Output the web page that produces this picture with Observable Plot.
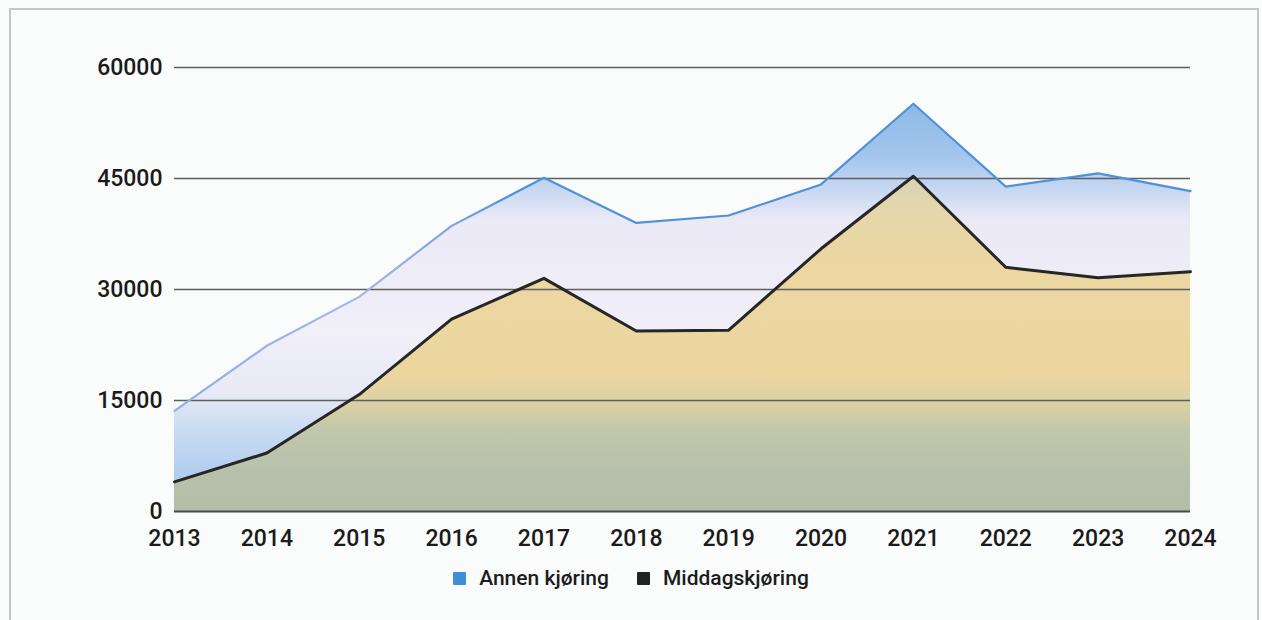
<!DOCTYPE html>
<html>
<head>
<meta charset="utf-8">
<script src="https://cdn.jsdelivr.net/npm/d3@7"></script>
<script src="https://cdn.jsdelivr.net/npm/@observablehq/plot@0.6"></script>
<style>
  body { margin:0; background:#fafbfb; font-family:Roboto, "Noto Sans", sans-serif; width:1262px; height:620px; overflow:hidden; position:relative; }
  #frame { position:absolute; left:9px; top:8px; width:1250px; height:660px; border:2px solid #c6c6c6; box-sizing:border-box; }
  #chart { position:absolute; left:0; top:0; }
  #legend { position:absolute; left:0; top:566px; width:1262px; display:flex; justify-content:center; align-items:center; font-size:21px; font-weight:500; color:#1c1c1c; }
  .item { display:flex; align-items:center; margin:0 14px; }
  .sw { width:13px; height:13px; margin-right:13px; border-radius:1px; }
</style>
</head>
<body>
<div id="frame"></div>
<div id="chart"></div>
<div id="legend"></div>
<script>
const years = [2013, 2014, 2015, 2016, 2017, 2018, 2019, 2020, 2021, 2022, 2023, 2024];
const annenKjoring = [13600, 22400, 29000, 38600, 45100, 39000, 40000, 44200, 55100, 43900, 45700, 43300];
const middagskjoring = [4000, 7900, 15800, 26000, 31500, 24400, 24500, 35500, 45300, 33000, 31600, 32400];
const yTicks = [0, 15000, 30000, 45000, 60000];
const seriesNames = ["Annen kjøring", "Middagskjøring"];
const seriesColors = ["#3f8ed8", "#232323"];

const data = years.map((year, i) => ({year, annen: annenKjoring[i], middag: middagskjoring[i]}));

const plot = Plot.plot({
  width: 1262,
  height: 560,
  marginLeft: 174,
  marginRight: 72,
  marginTop: 67,
  marginBottom: 49,
  style: {fontSize: "23px", fontWeight: 500, fontFamily: "Roboto, sans-serif", color: "#1a1a1a", background: "transparent"},
  x: {type: "linear", domain: [years[0], years[years.length - 1]], ticks: years, tickFormat: "d", tickSize: 0, tickPadding: 18, label: null},
  y: {domain: [0, 60000], ticks: yTicks, tickFormat: d => String(d), tickSize: 0, tickPadding: 12, label: null},
  marks: [
    Plot.areaY(data, {x: "year", y: "annen", fill: "url(#gBlue)"}),
    Plot.areaY(data, {x: "year", y: "middag", fill: "url(#gTan)"}),
    Plot.ruleY(yTicks.slice(1), {stroke: "#5e5e5e", strokeWidth: 1.3}),
    Plot.ruleY([0], {stroke: "#4a4a4a", strokeWidth: 2}),
    Plot.lineY(data, {x: "year", y: "annen", stroke: "url(#gLine)", strokeWidth: 2.2}),
    Plot.lineY(data, {x: "year", y: "middag", stroke: "#262626", strokeWidth: 3})
  ]
});

const ys = plot.scale("y");
const xs = plot.scale("x");
const svg = d3.select(plot);
const defs = svg.insert("defs", ":first-child");
function grad(id, stops) {
  const vals = stops.map(s => s[0]);
  const top = d3.max(vals), bot = d3.min(vals);
  const g = defs.append("linearGradient").attr("id", id)
    .attr("gradientUnits", "userSpaceOnUse")
    .attr("x1", 0).attr("x2", 0)
    .attr("y1", ys.apply(top)).attr("y2", ys.apply(bot));
  stops.forEach(([v, c]) => {
    g.append("stop").attr("offset", (top - v) / (top - bot)).attr("stop-color", c);
  });
}
grad("gBlue", [
  [55100, "#8db9e6"], [48000, "#a3c5ec"], [44000, "#c2d5f1"], [39500, "#eae9f6"],
  [24000, "#f1eff8"], [16000, "#e8eaf6"], [11000, "#c9dbf2"], [4000, "#aecbee"], [0, "#aecbee"]
]);
grad("gTan", [
  [45300, "#d6d2b6"], [41000, "#e5d7ab"], [33000, "#ecd6a1"], [18000, "#ebd6a0"],
  [14000, "#d7d1a6"], [11000, "#c1c7ab"], [5000, "#b6c0aa"], [0, "#b3bda8"]
]);
// the top line is pale on the rising left part, full blue from 2016 on
const lg = defs.append("linearGradient").attr("id", "gLine")
  .attr("gradientUnits", "userSpaceOnUse")
  .attr("x1", xs.apply(years[0])).attr("x2", xs.apply(years[years.length - 1]))
  .attr("y1", 0).attr("y2", 0);
const span = years[years.length - 1] - years[0];
[[2013, "#8fb0e6"], [2015, "#a8b6e8"], [2016, "#7fa6e0"], [2016.6, "#4e92da"], [2024, "#4e92da"]]
  .forEach(([yr, c]) => lg.append("stop").attr("offset", (yr - years[0]) / span).attr("stop-color", c));

document.getElementById("chart").appendChild(plot);

const legend = d3.select("#legend");
seriesNames.forEach((name, i) => {
  const it = legend.append("div").attr("class", "item");
  it.append("div").attr("class", "sw").style("background", seriesColors[i]);
  it.append("span").text(name);
});
</script>
</body>
</html>
